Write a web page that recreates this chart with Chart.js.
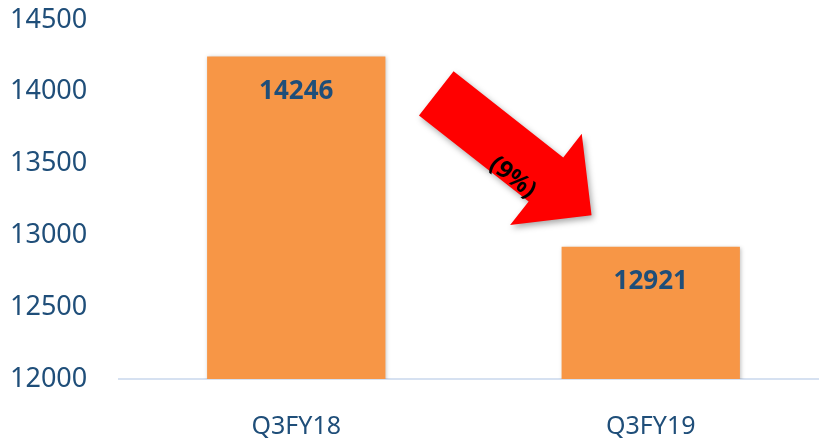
<!DOCTYPE html>
<html>
<head>
<meta charset="utf-8">
<script src="https://cdn.jsdelivr.net/npm/chart.js@4.4.1/dist/chart.umd.min.js"></script>
<style>
  html, body { margin: 0; padding: 0; background: #fff; overflow: hidden; }
  #wrap { width: 828px; height: 438px; }
</style>
</head>
<body>
<div id="wrap"><canvas id="chart" width="828" height="438"></canvas></div>
<script>
// chart data
const quarters = ['Q3FY18', 'Q3FY19'];
const volumes = [14246, 12921];
const changeLabel = '(9%)';
const yTicks = [12000, 12500, 13000, 13500, 14000, 14500];

const barColor = '#F79646';
const textBlue = '#1F4E79';

// value labels inside bars
const valueLabels = {
  id: 'valueLabels',
  afterDatasetsDraw(chart) {
    const ctx = chart.ctx;
    const meta = chart.getDatasetMeta(0);
    ctx.save();
    ctx.font = 'bold 26px "Noto Sans"';
    ctx.fillStyle = textBlue;
    ctx.textAlign = 'center';
    ctx.textBaseline = 'middle';
    meta.data.forEach(function (bar, i) {
      ctx.fillText(String(volumes[i]), bar.x, bar.y + 35);
    });
    ctx.restore();
  }
};

// soft shadow under bars
const barShadow = {
  id: 'barShadow',
  beforeDatasetsDraw(chart) {
    const ctx = chart.ctx;
    ctx.save();
    ctx.shadowColor = 'rgba(0,0,0,0.25)';
    ctx.shadowBlur = 4;
    ctx.shadowOffsetX = 1;
    ctx.shadowOffsetY = 1;
  },
  afterDatasetsDraw(chart) {
    chart.ctx.restore();
  }
};

// red down arrow between the bars
const downArrow = {
  id: 'downArrow',
  afterDraw(chart) {
    const ctx = chart.ctx;
    const xs = chart.scales.x;
    const ys = chart.scales.y;
    const x0 = xs.getPixelForValue(0.395), y0 = ys.getPixelForValue(13989);
    const x1 = xs.getPixelForValue(0.833), y1 = ys.getPixelForValue(13140);
    const len = Math.hypot(x1 - x0, y1 - y0);
    const ang = Math.atan2(y1 - y0, x1 - x0);
    const shaftW = 56, headW = 116, headL = 58;

    ctx.save();
    ctx.translate(x0, y0);
    ctx.rotate(ang);
    ctx.shadowColor = 'rgba(0,0,0,0.35)';
    ctx.shadowBlur = 6;
    ctx.shadowOffsetX = 2;
    ctx.shadowOffsetY = 3;
    ctx.fillStyle = '#FF0000';
    ctx.beginPath();
    ctx.moveTo(0, -shaftW / 2);
    ctx.lineTo(len - headL, -shaftW / 2);
    ctx.lineTo(len - headL, -headW / 2);
    ctx.lineTo(len, 0);
    ctx.lineTo(len - headL, headW / 2);
    ctx.lineTo(len - headL, shaftW / 2);
    ctx.lineTo(0, shaftW / 2);
    ctx.closePath();
    ctx.fill();

    ctx.shadowColor = 'transparent';
    ctx.fillStyle = '#000';
    ctx.font = 'bold 24px "Noto Sans"';
    ctx.textAlign = 'center';
    ctx.textBaseline = 'middle';
    ctx.fillText(changeLabel, 112, 19);
    ctx.restore();
  }
};

new Chart(document.getElementById('chart').getContext('2d'), {
  type: 'bar',
  data: {
    labels: quarters,
    datasets: [{
      data: volumes,
      backgroundColor: barColor,
      borderWidth: 0,
      categoryPercentage: 1,
      barPercentage: 0.503
    }]
  },
  options: {
    responsive: false,
    animation: false,
    layout: { padding: { left: 10, top: 20, right: 0, bottom: -37 } },
    plugins: {
      legend: { display: false },
      tooltip: { enabled: false }
    },
    scales: {
      x: {
        grid: { display: false, drawTicks: false },
        border: { display: true, color: '#D6E1F1', width: 2 },
        ticks: {
          color: textBlue,
          font: { family: 'Noto Sans', size: 25 },
          padding: 33
        }
      },
      y: {
        min: yTicks[0],
        max: yTicks[yTicks.length - 1],
        afterBuildTicks(axis) {
          axis.ticks = yTicks.map(v => ({ value: v }));
        },
        afterFit(axis) {
          axis.width = 109;
        },
        grid: { display: false, drawTicks: false },
        border: { display: false },
        ticks: {
          color: textBlue,
          font: { family: 'Noto Sans', size: 27 },
          padding: 0,
          crossAlign: 'far',
          callback: v => String(v)
        }
      }
    }
  },
  plugins: [barShadow, valueLabels, downArrow]
});
</script>
</body>
</html>
